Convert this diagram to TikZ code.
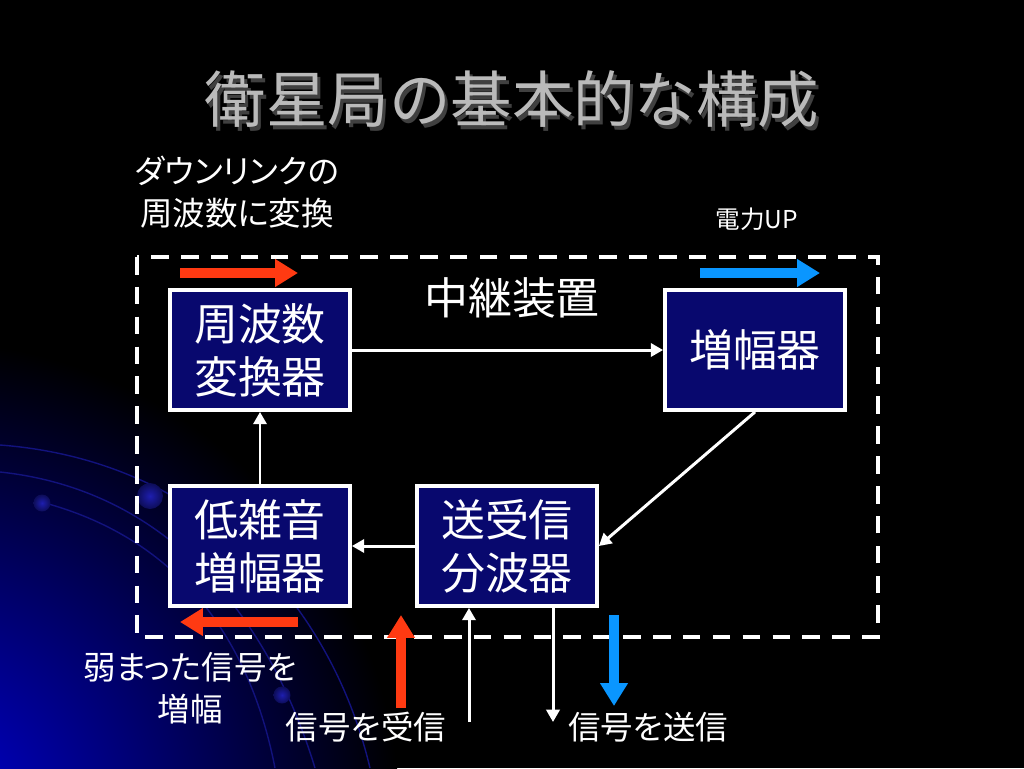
\documentclass[tikz,border=0pt]{standalone}
\usepackage{fontspec}
\setmainfont{Noto Sans CJK JP}
\newfontfamily\propfont{Noto Sans CJK JP}[RawFeature=+palt]
\usetikzlibrary{positioning,arrows.meta,calc}

\definecolor{boxnavy}{RGB}{8,8,110}
\definecolor{sigred}{RGB}{255,58,18}
\definecolor{sigblue}{RGB}{10,150,255}
\definecolor{titlegray}{RGB}{186,186,186}
\definecolor{swoosh}{RGB}{0,0,215}
\definecolor{arcblue}{RGB}{18,18,125}
\definecolor{dotblue}{RGB}{30,30,175}

\tikzset{
  unitbox/.style={draw=white, line width=2.2pt, fill=boxnavy, text=white,
    minimum width=3.6cm, minimum height=2.4cm, inner sep=0pt, align=center,
    font=\fontsize{25}{30}\selectfont},
  notetext/.style={text=white, align=center, inner sep=0pt,
    font=\propfont\fontsize{18.5}{24}\selectfont},
  wire/.style={white, line width=1.7pt, -{Triangle[length=7pt,width=7.5pt]}},
  fatarrow/.style={line width=5.6pt, -{Triangle[length=13pt,width=15pt]}},
  frame/.style={white, line width=2.3pt, dash pattern=on 10pt off 7pt},
  bead/.style={inner color=dotblue, outer color=arcblue!70!black},
}

\begin{document}
\begin{tikzpicture}[x=0.02cm, y=-0.02cm]
  % background
  \useasboundingbox (0,0) rectangle (1024,768);
  \fill[black] (0,0) rectangle (1024,768);
  \begin{scope}
    \clip (0,0) rectangle (1024,768);
    \shade[inner color=swoosh, outer color=black] (-80,820) circle (9.6cm);
    \draw[arcblue, line width=0.8pt] (0,445) .. controls (200,460) and (330,600) .. (370,768);
    \draw[arcblue, line width=0.8pt] (0,472) .. controls (170,490) and (270,620) .. (315,768);
    \draw[arcblue, line width=0.8pt] (45,503) .. controls (180,540) and (250,640) .. (275,768);
    \shade[bead] (150,496) circle (0.26cm);
    \shade[bead] (42,503) circle (0.17cm);
    \shade[bead] (282,695) circle (0.17cm);
  \end{scope}

  % title
  \node[text=black!75, font=\fontsize{35}{40}\selectfont] at (515,103) {衛星局の基本的な構成};
  \node[text=titlegray, font=\fontsize{35}{40}\selectfont] (title) at (512,99) {衛星局の基本的な構成};

  % relay frame
  \draw[frame] (137,257) rectangle (878,637);
  \node[text=white, inner sep=0pt, font=\fontsize{25}{30}\selectfont] (relay) at (512,298) {中継装置};

  % units
  \node[unitbox] (conv) at (260,350) {周波数\\変換器};
  \node[unitbox] (amp) at (755,350) {増幅器};
  \node[unitbox] (lna) at (260,546) {低雑音\\増幅器};
  \node[unitbox] (dup) at (507,546) {送受信\\分波器};

  \draw[wire] (conv) -- (amp);
  \draw[wire] (lna) -- (conv);
  \draw[wire] (dup) -- (lna);
  \draw[wire] (amp.south) -- (dup.east);
  \coordinate (rxin) at (469,722);
  \coordinate (txout) at (553,722);
  \draw[wire] (rxin) -- (rxin |- dup.south);
  \draw[wire] (txout |- dup.south) -- (txout);

  % signal arrows
  \coordinate (redA) at (180,273);  \coordinate (redB) at (298,273);
  \coordinate (redC) at (298,622);  \coordinate (redD) at (180,622);
  \coordinate (redE) at (401,708);  \coordinate (redF) at (401,615);
  \coordinate (blueA) at (700,273); \coordinate (blueB) at (820,273);
  \coordinate (blueC) at (614,615); \coordinate (blueD) at (614,706);
  \draw[fatarrow, sigred] (redA) -- (redB);
  \draw[fatarrow, sigred] (redC) -- (redD);
  \draw[fatarrow, sigred] (redE) -- (redF);
  \draw[fatarrow, sigblue] (blueA) -- (blueB);
  \draw[fatarrow, sigblue] (blueC) -- (blueD);

  % notes
  \node[notetext] (downnote) at (237,192) {ダウンリンクの\\周波数に変換};
  \node[notetext, font=\fontsize{14}{16}\selectfont] (powernote) at (757,219) {電力UP};
  \node[notetext] (weaknote) at (190,688) {弱まった信号を\\増幅};
  \node[notetext] (rxnote) at (366,727) {信号を受信};
  \node[notetext] (txnote) at (648,727) {信号を送信};
\end{tikzpicture}
\end{document}
